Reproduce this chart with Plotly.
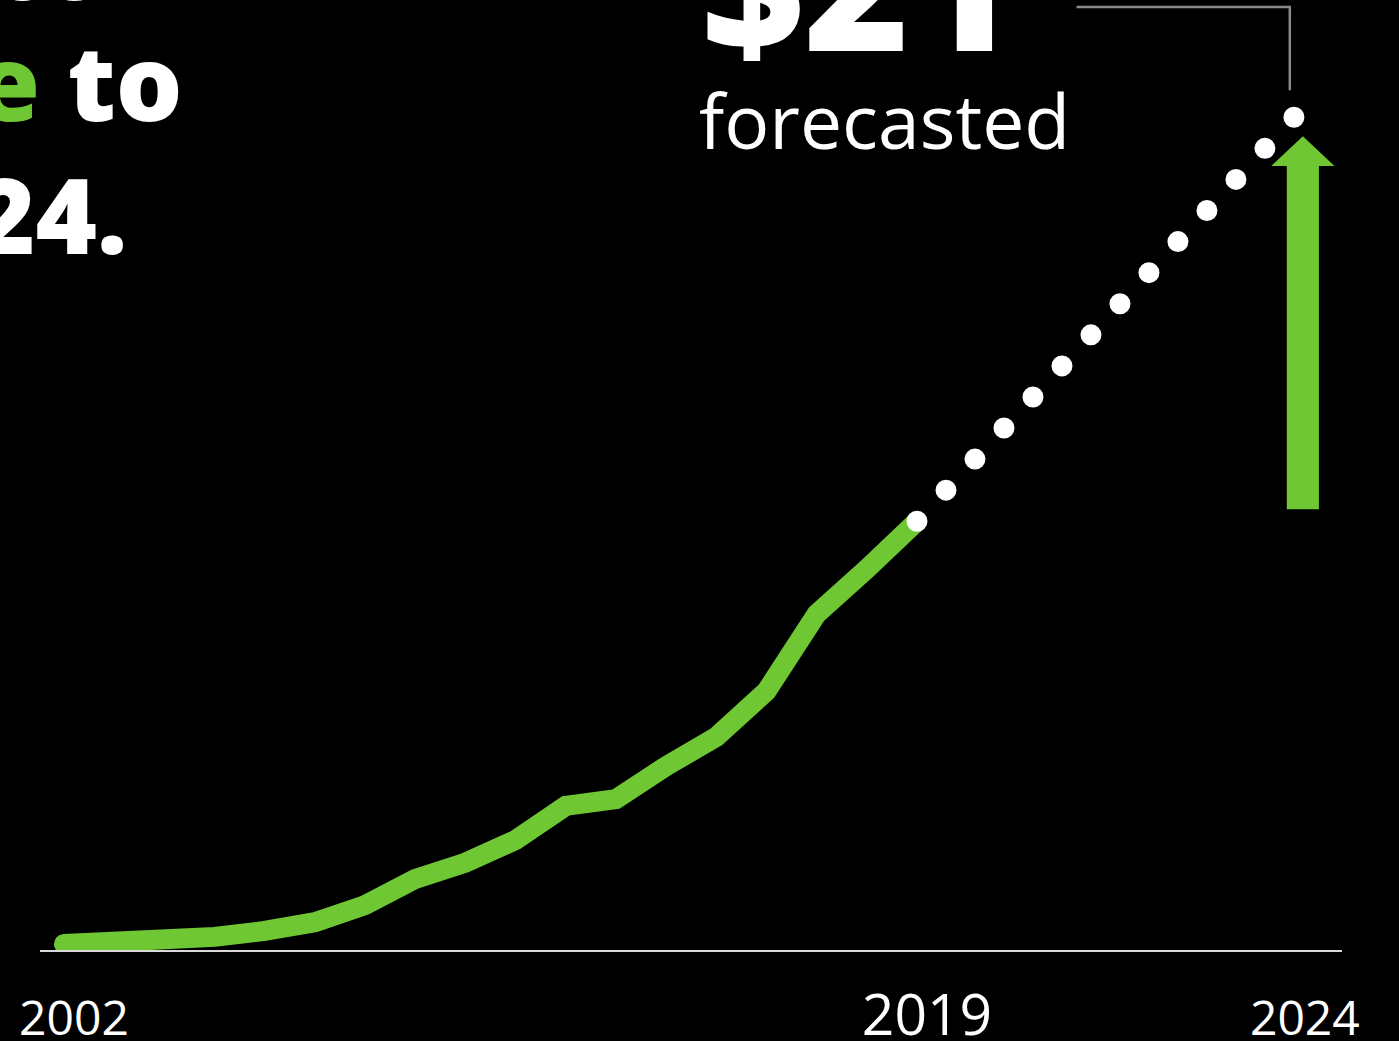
import plotly.graph_objects as go

# ---- data ----
years_hist = list(range(2002, 2020))
values_hist = [0.15, 0.18, 0.33, 0.33, 0.48, 0.70, 1.13, 1.79, 2.20, 2.77,
               3.63, 3.80, 4.63, 5.37, 6.52, 8.46, 9.60, 10.80]
years_fc = [2019, 2024]
values_fc = [10.80, 21.0]
tick_years = [2002, 2019, 2024]
tick_labels = ["2002", "2019", "2024"]

GREEN = "#6FC833"
WHITE = "#FFFFFF"
FONT = "Open Sans"


def pos(year):
    # infographic x scale: the forecast years are drawn wider than history
    return (year - 2002) if year <= 2019 else 17 + (year - 2019) * 1.506


fig = go.Figure()

fig.add_trace(go.Scatter(
    x=[pos(y) for y in years_hist], y=values_hist, mode="lines",
    line=dict(color=GREEN, width=20), hoverinfo="skip", showlegend=False))

fig.add_trace(go.Scatter(
    x=[pos(y) for y in years_fc], y=values_fc, mode="lines",
    line=dict(color=WHITE, width=21, dash="0px,42.5px"),
    hoverinfo="skip", showlegend=False))

# green up-arrow next to the forecast (decoration, in data units)
ax = pos(2024) + 0.16
lo, hi = values_fc[0] + 0.3, values_fc[1] - 0.5
sw, hw, hh = 0.32, 0.63, 0.75
arrow_path = (f"M {ax - sw} {lo} L {ax + sw} {lo} L {ax + sw} {hi - hh} "
              f"L {ax + hw} {hi - hh} L {ax} {hi} L {ax - hw} {hi - hh} "
              f"L {ax - sw} {hi - hh} Z")
fig.add_shape(type="path", path=arrow_path, xref="x", yref="y",
              fillcolor=GREEN, line=dict(width=0), layer="above")

# grey connector from the headline value to the last forecast point
cx = pos(2024) - 0.1
fig.add_shape(type="path", xref="x", yref="paper",
              path=f"M {cx - 4.25} 0.9926 L {cx} 0.9926 L {cx} 0.905",
              line=dict(color="#8a8a8a", width=2.5))

# ---- text ----
big = dict(family=FONT, size=105, color=WHITE, weight=800)
fig.add_annotation(text="Revenue is expected to", xref="paper", yref="paper",
                   x=0.054, y=0.965, xanchor="right", yanchor="bottom",
                   showarrow=False, font=big)
fig.add_annotation(text=f"more than <span style='color:{GREEN}'>double</span> to",
                   xref="paper", yref="paper", x=0.1115, y=0.838,
                   xanchor="right", yanchor="bottom", showarrow=False, font=big)
fig.add_annotation(text="by 2024.", xref="paper", yref="paper",
                   x=0.0685, y=0.698, xanchor="right", yanchor="bottom",
                   showarrow=False, font=big)

fig.add_annotation(text="$21", xref="paper", yref="paper", x=0.505, y=0.888,
                   xanchor="left", yanchor="bottom", showarrow=False,
                   font=dict(family=FONT, size=180, color=WHITE, weight=800))
fig.add_annotation(text="forecasted", xref="paper", yref="paper", x=0.5046,
                   y=0.818, xanchor="left", yanchor="bottom", showarrow=False,
                   font=dict(family=FONT, size=75, color=WHITE))

# the current year (2019) label is drawn a little larger
tick_text = [f"<span style='font-size:57px'>{t}</span>" if t == "2019" else t
             for t in tick_labels]

fig.update_xaxes(range=[-0.478, 25.47], showgrid=False, zeroline=False,
                 showline=True, linecolor="#d9d9d9", linewidth=2,
                 automargin=False,
                 tickvals=[pos(y) for y in tick_years], ticktext=tick_text,
                 ticks="", ticklabelstandoff=25, ticklabelshift=10,
                 tickfont=dict(family=FONT, size=48, color=WHITE))
fig.update_yaxes(range=[0, 23.93], visible=False, showgrid=False,
                 zeroline=False, automargin=False)

fig.update_layout(width=1399, height=1041, paper_bgcolor="black",
                  plot_bgcolor="black",
                  margin=dict(l=40, r=57, t=0, b=91, autoexpand=False))

fig.write_html(
    "out.html",
    config={"displayModeBar": False},
    post_script="var s=document.createElement('style');"
                "s.textContent='html,body{margin:0;padding:0;overflow:hidden;background:#000}"
                ".scatterlayer .js-line{stroke-linecap:round}';"
                "document.head.appendChild(s);")
